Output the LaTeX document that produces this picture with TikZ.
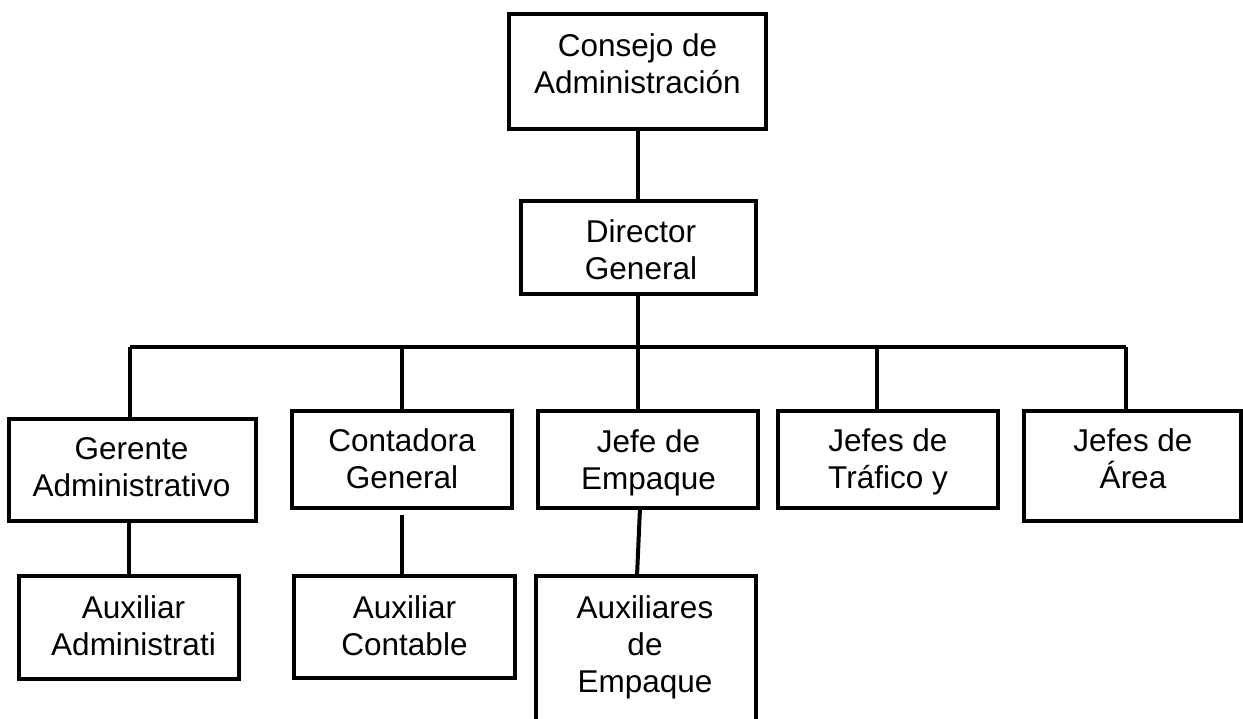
\documentclass[tikz,border=0pt]{standalone}
\usepackage{fontspec}
\setmainfont{Liberation Sans}
\begin{document}
\begin{tikzpicture}[x=1pt,y=-1pt,
  orgbox/.style={draw=black,line width=4pt,rectangle,inner sep=0pt,outer sep=0pt},
  orgtxt/.style={align=center,inner sep=0pt,font=\fontsize{31.5}{37}\selectfont},
  conn/.style={draw=black,line width=4pt}]
\useasboundingbox (0,0) rectangle (1243,718);
% boxes
\node[orgbox,minimum width=257pt,minimum height=115pt] (consejo) at (637.5,71.5) {};
\node[orgbox,minimum width=235pt,minimum height=93pt] (director) at (638.5,247.5) {};
\node[orgbox,minimum width=247pt,minimum height=102pt] (gerente) at (132.5,470) {};
\node[orgbox,minimum width=220pt,minimum height=97pt] (contadora) at (402,459.5) {};
\node[orgbox,minimum width=220pt,minimum height=97pt] (jefe) at (648,459.5) {};
\node[orgbox,minimum width=220pt,minimum height=97pt] (trafico) at (888,459.5) {};
\node[orgbox,minimum width=217pt,minimum height=110pt] (area) at (1132.5,466) {};
\node[orgbox,minimum width=220pt,minimum height=103pt] (auxadm) at (129,627.5) {};
\node[orgbox,minimum width=221pt,minimum height=102pt] (auxcont) at (404.5,627) {};
\node[orgbox,minimum width=220pt,minimum height=160pt] (auxemp) at (646,656) {};
% texts
\node[orgtxt] (tconsejo) at (637.5,63.5) {Consejo de\\Administración};
\node[orgtxt] (tdirector) at (641,249.5) {Director\\General};
\node[orgtxt] (tgerente) at (131.5,467.5) {Gerente\\Administrativo};
\node[orgtxt] (tcontadora) at (402,458.5) {Contadora\\General};
\node[orgtxt] (tjefe) at (648.5,462.5) {Jefe de\\Empaque};
\node[orgtxt] (ttrafico) at (888,461.5) {Jefes de\\Tráfico y};
\node[orgtxt] (tarea) at (1133,459) {Jefes de\\Área};
\node[orgtxt] (tauxadm) at (133.5,625.5) {Auxiliar\\Administrati};
\node[orgtxt] (tauxcont) at (404.5,625.5) {Auxiliar\\Contable};
\node[orgtxt] (tauxemp) at (645,647) {Auxiliares\\de\\Empaque};
% connectors
\coordinate (busL) at (130,347);
\coordinate (busR) at (1126,347);
\coordinate (busM) at (638,347);
\coordinate (busT) at (877,347);
\draw[conn] (consejo.south -| busM) -- (director.north -| busM);
\draw[conn] (director.south -| busM) -- (busM);
\draw[conn] (busL) -- (busR);
\draw[conn] (busL) -- (busL |- gerente.north);
\draw[conn] (contadora.north |- busL) -- (contadora.north);
\draw[conn] (busM) -- (busM |- jefe.north);
\draw[conn] (busT) -- (busT |- trafico.north);
\draw[conn] (busR) -- (busR |- area.north);
\draw[conn] (auxadm.north |- gerente.south) -- (auxadm.north);
\draw[conn] ([yshift=-7pt]contadora.south) -- (contadora.south |- auxcont.north);
\draw[conn] ([xshift=-8pt]jefe.south) -- ([xshift=-9pt]auxemp.north);
\end{tikzpicture}
\end{document}
